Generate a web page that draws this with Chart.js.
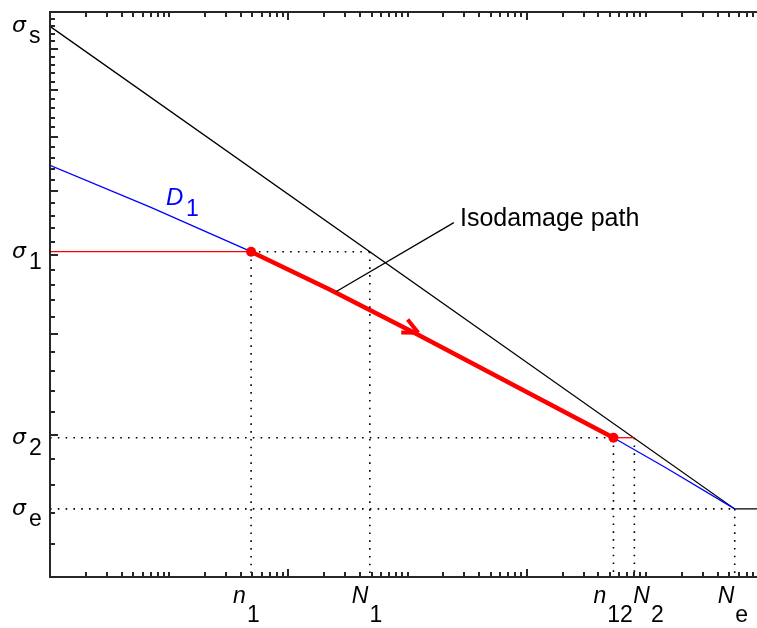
<!DOCTYPE html>
<html>
<head>
<meta charset="utf-8">
<script src="https://cdn.jsdelivr.net/npm/chart.js@4.4.1/dist/chart.umd.min.js"></script>
<style>
html,body{margin:0;padding:0;background:#fff;overflow:hidden;width:757px;height:628px;}
canvas{display:block;}
</style>
</head>
<body>
<canvas id="c" width="770" height="628"></canvas>
<script>
// ---- data (x = cycles N, y = stress amplitude, both log) ----
const xRange = [1, 1e6];
const yRange = [10, 50];
const xMarkNames = ['n', 'N', 'n', 'N', 'N'];
const xMarkSubs  = ['1', '1', '12', '2', 'e'];
const xMarkValues = [48.7, 483, 53500, 80100, 557000];
const yMarkSubs  = ['s', '1', '2', 'e'];
const yMarkValues = [48.0, 25.26, 14.87, 12.14];
// S-N curve (black)
const snN = [1, 557000, 1e6];
const snS = [48.0, 12.14, 12.14];
// isodamage line D1 (blue)
const d1N = [1, 6.87, 48.7, 220, 1161, 53500, 144800, 557000];
const d1S = [32.3, 28.7, 25.26, 22.7, 20.02, 14.87, 13.67, 12.14];
// loading path along D1 (thick red)
const pathN = [48.7, 220, 1161, 53500];
const pathS = [25.26, 22.7, 20.02, 14.87];
const arrowTipN = 1231, arrowTipS = 20.05;
// leader line to the "Isodamage path" note
const leaderN = [250.7, 2449];
const leaderS = [22.54, 27.44];
const noteText = 'Isodamage path';

const [n1, N1, n12, N2, Ne] = xMarkValues;
const [sS, s1, s2, sE] = yMarkValues;
const pts = (xs, ys) => xs.map((x, i) => ({x, y: ys[i]}));

const dottedSegs = [
  [[n1, s1], [N1, s1]],
  [[n1, s1], [n1, yRange[0]]],
  [[N1, s1], [N1, yRange[0]]],
  [[xRange[0], s2], [n12, s2]],
  [[n12, s2], [n12, yRange[0]]],
  [[N2, s2], [N2, yRange[0]]],
  [[xRange[0], sE], [Ne, sE]],
  [[Ne, sE], [Ne, yRange[0]]]
];

const datasets = [];
dottedSegs.forEach(seg => datasets.push({
  data: seg.map(p => ({x: p[0], y: p[1]})),
  showLine: true, borderColor: '#000', borderWidth: 1.6, borderDash: [1.6, 6.2],
  pointRadius: 0, order: 10
}));
datasets.push({data: pts(snN, snS), showLine: true, borderColor: '#000', borderWidth: 1.3, pointRadius: 0, order: 9});
datasets.push({data: pts(d1N, d1S), showLine: true, borderColor: '#0000ff', borderWidth: 1.3, pointRadius: 0, order: 8, tension: 0});
datasets.push({data: [{x: xRange[0], y: s1}, {x: n1, y: s1}], showLine: true, borderColor: '#ff0000', borderWidth: 1.3, pointRadius: 0, order: 7});
datasets.push({data: [{x: n12, y: s2}, {x: N2, y: s2}], showLine: true, borderColor: '#ff0000', borderWidth: 1.3, pointRadius: 0, order: 7});
datasets.push({data: pts(pathN, pathS), showLine: true, borderColor: '#ff0000', borderWidth: 4.5, pointRadius: 0, order: 6, borderCapStyle: 'butt'});
datasets.push({data: [{x: n1, y: s1}, {x: n12, y: s2}], showLine: false, pointRadius: 5, pointBackgroundColor: '#ff0000', pointBorderColor: '#ff0000', pointBorderWidth: 0, order: 5});
datasets.push({data: pts(leaderN, leaderS), showLine: true, borderColor: '#000', borderWidth: 1.3, pointRadius: 0, order: 4});

function logTicks(lo, hi) {
  const out = [];
  for (let d = Math.floor(Math.log10(lo)); d <= Math.ceil(Math.log10(hi)); d++) {
    for (let k = 1; k <= 9; k++) {
      const v = k * Math.pow(10, d);
      if (v >= lo && v <= hi) out.push(v);
    }
  }
  return out;
}

const decor = {
  id: 'decor',
  afterDatasetsDraw(chart) {
    const ctx = chart.ctx, xs = chart.scales.x, ys = chart.scales.y, a = chart.chartArea;
    ctx.save();
    // arrowhead on the red path
    const tx = xs.getPixelForValue(arrowTipN), ty = ys.getPixelForValue(arrowTipS);
    const bx = xs.getPixelForValue(pathN[1]), by = ys.getPixelForValue(pathS[1]);
    const ang = Math.atan2(ty - by, tx - bx);
    ctx.strokeStyle = '#ff0000'; ctx.lineWidth = 4; ctx.lineCap = 'butt';
    [0.44, -0.44].forEach(d => {
      ctx.beginPath();
      ctx.moveTo(tx, ty);
      ctx.lineTo(tx - 17 * Math.cos(ang + d), ty - 17 * Math.sin(ang + d));
      ctx.stroke();
    });
    // axes box
    ctx.strokeStyle = '#262626'; ctx.lineWidth = 2;
    ctx.beginPath();
    ctx.moveTo(a.right + 1, a.top); ctx.lineTo(a.left, a.top); ctx.lineTo(a.left, a.bottom); ctx.lineTo(a.right + 1, a.bottom);
    ctx.stroke();
    ctx.lineWidth = 2;
    // x ticks (inward, top & bottom)
    logTicks(xRange[0], xRange[1]).forEach(v => {
      const p = Math.round(xs.getPixelForValue(v));
      const major = Math.abs(Math.log10(v) % 2) < 1e-9;
      const L = major ? 8 : 5;
      ctx.beginPath();
      ctx.moveTo(p, a.bottom); ctx.lineTo(p, a.bottom - L);
      ctx.moveTo(p, a.top); ctx.lineTo(p, a.top + L);
      ctx.stroke();
    });
    // y ticks
    for (let v = yRange[0]; v <= yRange[1]; v++) {
      const p = Math.round(ys.getPixelForValue(v));
      const L = (v % 5 === 0) ? 8 : 5;
      ctx.beginPath();
      ctx.moveTo(a.left, p); ctx.lineTo(a.left + L, p);
      ctx.stroke();
    }
    // y labels
    ctx.fillStyle = '#000'; ctx.textBaseline = 'alphabetic'; ctx.textAlign = 'left';
    yMarkValues.forEach((v, i) => {
      const p = ys.getPixelForValue(v);
      ctx.font = 'oblique 22px "DejaVu Sans"';
      ctx.fillText('σ', 12, p + 6);
      ctx.font = '23px "Liberation Sans"';
      ctx.fillText(yMarkSubs[i], 29, p + 17);
    });
    // x labels
    const xOff = [-18, -18, -20, -1, -17];
    xMarkValues.forEach((v, i) => {
      const p = xs.getPixelForValue(v) + xOff[i];
      ctx.font = 'italic 23px "Liberation Sans"';
      ctx.fillText(xMarkNames[i], p, 603);
      const w = ctx.measureText(xMarkNames[i]).width;
      ctx.font = '23px "Liberation Sans"';
      ctx.fillText(xMarkSubs[i], p + w + 1, 622);
    });
    // D1 label
    ctx.fillStyle = '#0000ff';
    ctx.font = 'italic 24px "Liberation Sans"';
    ctx.fillText('D', 166, 205);
    ctx.font = '23px "Liberation Sans"';
    ctx.fillText('1', 186, 216);
    // note
    ctx.fillStyle = '#000';
    ctx.font = '25px "Liberation Sans"';
    ctx.fillText(noteText, 460, 226);
    ctx.restore();
  }
};

new Chart(document.getElementById('c'), {
  type: 'scatter',
  data: {datasets},
  options: {
    responsive: false, animation: false, devicePixelRatio: 1,
    layout: {padding: {left: 50, top: 12, right: 3, bottom: 51}},
    plugins: {legend: {display: false}, tooltip: {enabled: false}},
    scales: {
      x: {type: 'logarithmic', min: xRange[0], max: xRange[1], display: false},
      y: {type: 'logarithmic', min: yRange[0], max: yRange[1], display: false}
    }
  },
  plugins: [decor]
});
</script>
</body>
</html>
